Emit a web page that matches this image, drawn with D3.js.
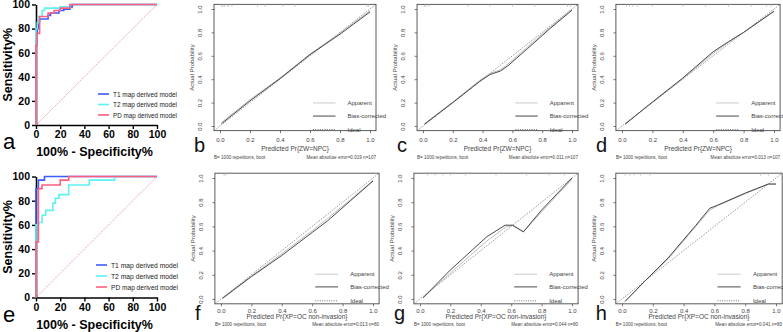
<html>
<head>
<meta charset="utf-8">
<title>ROC and calibration curves</title>
<style>
  body { margin: 0; background: #fff; }
  svg { display: block; }
  text { font-family: "Liberation Sans", Arial, sans-serif; }
</style>
<script src="https://d3js.org/d3.v7.min.js"></script>
</head>
<body>
<svg width="783" height="332"></svg>
<script>
// ---- data ----
var rocTicks = [0, 20, 40, 60, 80, 100];
var rocModels = ["T1 map derived model", "T2 map derived model", "PD map derived model"];
var rocColors = ["#3d5cff", "#5cf2f2", "#ff5f7e"];

// step curves: [100% - specificity, sensitivity]
var rocA_T1 = [[0,0],[0,70],[1,80],[2,86],[3,88],[10,91],[12,93],[19,95],[23,96],[28,98],[30,100],[100,100]];
var rocA_T2 = [[0,0],[0,68],[0,80],[1,85],[2,90],[5,95],[7,97],[20,98],[28,100],[100,100]];
var rocA_PD = [[0,0],[0,66],[1,76],[3,90],[10,93],[15,95],[20,97],[28,100],[100,100]];

var rocE_T1 = [[0,0],[0,60],[0,90],[2,97],[7,100],[100,100]];
var rocE_T2 = [[0,0],[0,46],[0,60],[2,62],[5,68],[8,72],[14,78],[16,82],[19,85],[27,93],[44,97],[65,100],[100,100]];
var rocE_PD = [[0,0],[0,46],[2,90],[5,93],[20,97],[27,100],[100,100]];

var calTicks = [0, 0.2, 0.4, 0.6, 0.8, 1.0];
var calLegend = ["Apparent", "Bias-corrected", "Ideal"];

// [predicted, actual]
var calB_app  = [[0.01,0.03],[0.2,0.225],[0.4,0.41],[0.6,0.615],[0.8,0.795],[1.0,0.985]];
var calB_bias = [[0.01,0.02],[0.2,0.215],[0.4,0.405],[0.6,0.61],[0.8,0.785],[1.0,0.975]];
var calC_app  = [[0.01,0.02],[0.2,0.205],[0.38,0.39],[0.45,0.45],[0.52,0.48],[0.57,0.53],[0.7,0.675],[0.85,0.84],[1.0,1.0]];
var calC_bias = [[0.01,0.015],[0.2,0.2],[0.38,0.38],[0.45,0.44],[0.52,0.47],[0.57,0.515],[0.7,0.66],[0.85,0.83],[1.0,0.99]];
var calD_app  = [[0.02,0.02],[0.2,0.2],[0.4,0.405],[0.6,0.62],[0.7,0.715],[0.8,0.8],[1.0,0.985]];
var calD_bias = [[0.02,0.015],[0.2,0.205],[0.4,0.41],[0.6,0.635],[0.7,0.72],[0.8,0.8],[1.0,0.98]];
var calF_app  = [[0.01,0.01],[0.2,0.19],[0.4,0.375],[0.6,0.565],[0.7,0.665],[0.85,0.82],[1.0,0.98]];
var calF_bias = [[0.01,0.005],[0.2,0.185],[0.4,0.36],[0.6,0.55],[0.7,0.645],[0.85,0.81],[1.0,0.975]];
var calG_app  = [[0.02,0.01],[0.2,0.215],[0.44,0.48],[0.57,0.6],[0.61,0.605],[0.68,0.555],[0.8,0.72],[1.0,0.99]];
var calG_bias = [[0.02,0.01],[0.2,0.24],[0.44,0.515],[0.56,0.61],[0.61,0.61],[0.68,0.555],[0.8,0.735],[1.0,1.0]];
var calH_app  = [[0.02,-0.02],[0.15,0.15],[0.3,0.33],[0.48,0.6],[0.57,0.735],[0.62,0.77],[0.8,0.87],[0.95,0.95],[1.0,0.95]];
var calH_bias = [[0.02,-0.02],[0.15,0.15],[0.3,0.34],[0.48,0.61],[0.57,0.75],[0.62,0.775],[0.8,0.875],[0.95,0.95],[1.0,0.95]];

var rugB = [0.01,0.02,0.03,0.05,0.06,0.08,0.25,0.3,0.42,0.5,0.98,0.99];
var rugC = [0.01,0.02,0.04,0.3,0.45,0.6,0.75,0.97,0.99];
var rugD = [0.03,0.05,0.07,0.1,0.2,0.4,0.55,0.7,0.85,0.95,0.98];
var rugF = [0.02,0.03];
var rugG = [0.05,0.1,0.15,0.2,0.3,0.5,0.7,0.85,0.95];
var rugH = [0.02,0.05,0.08,0.12,0.18,0.9,0.95];

var svg = d3.select("svg");

// ---- ROC panels ----
function rocPanel(o) {
  var x = d3.scaleLinear().domain([0, 100]).range([o.x0, o.x1]);
  var y = d3.scaleLinear().domain([0, 100]).range([o.y0, o.y1]);
  var g = svg.append("g");

  // chance line
  g.append("line")
    .attr("x1", x(0)).attr("y1", y(0)).attr("x2", x(100)).attr("y2", y(100))
    .attr("stroke", "#f2a0a0").attr("stroke-width", 1).attr("stroke-dasharray", "1.5,1");

  var ax = g.append("g").attr("transform", "translate(0," + o.y0 + ")")
    .call(d3.axisBottom(x).tickValues(rocTicks).tickSize(4).tickSizeOuter(0).tickPadding(2));
  var ay = g.append("g").attr("transform", "translate(" + o.x0 + ",0)")
    .call(d3.axisLeft(y).tickValues(rocTicks).tickSize(4).tickSizeOuter(0).tickPadding(2));
  [ax, ay].forEach(function (a) {
    a.select(".domain").attr("stroke-width", 1.6);
    a.selectAll(".tick line").attr("stroke-width", 1.4);
    a.selectAll("text").attr("font-size", 10.5).attr("font-weight", "bold").attr("fill", "#000")
      .style("font-family", "'Liberation Sans', Arial, sans-serif");
  });

  var line = d3.line().x(function (d) { return x(d[0]); }).y(function (d) { return y(d[1]); })
    .curve(d3.curveStepAfter);
  o.series.forEach(function (s, i) {
    g.append("path").attr("d", line(s)).attr("fill", "none")
      .attr("stroke", rocColors[i]).attr("stroke-width", 1.6);
  });

  g.append("text").attr("transform", "translate(8," + ((o.y0 + o.y1) / 2) + ") rotate(-90)")
    .attr("text-anchor", "middle").attr("dy", "0.35em")
    .attr("font-size", 12.5).attr("font-weight", "bold").text("Sensitivity%");
  g.append("text").attr("x", (o.x0 + o.x1) / 2 - 2).attr("y", o.y0 + 31)
    .attr("text-anchor", "middle").attr("font-size", 12.5).attr("font-weight", "bold")
    .text("100% - Specificity%");
  g.append("text").attr("x", 3).attr("y", o.y0 + 24).attr("font-size", 22).text(o.letter);

  rocModels.forEach(function (m, i) {
    var ly = o.legY[i];
    g.append("line").attr("x1", o.legX).attr("x2", o.legX + 11).attr("y1", ly).attr("y2", ly)
      .attr("stroke", rocColors[i]).attr("stroke-width", 1.6);
    g.append("text").attr("x", o.legX + 15).attr("y", ly).attr("dy", "0.35em")
      .attr("font-size", 8).attr("fill", "#222")
      .attr("textLength", o.legW).attr("lengthAdjust", "spacingAndGlyphs").text(m);
  });
}

rocPanel({x0: 36, x1: 157, y0: 125, y1: 4.5, letter: "a",
  series: [rocA_T1, rocA_T2, rocA_PD], legX: 98, legY: [94, 104.5, 115], legW: 64});
rocPanel({x0: 36, x1: 157, y0: 297.5, y1: 176.5, letter: "e",
  series: [rocE_T1, rocE_T2, rocE_PD], legX: 96, legY: [265, 276, 287], legW: 67});

// ---- calibration panels ----
function calPanel(o) {
  var x = d3.scaleLinear().domain([0, 1]).range([o.x0, o.x1]);
  var y = d3.scaleLinear().domain([0, 1]).range([o.y0, o.y1]);
  var g = svg.append("g");
  var fl = x(-0.04), fr = x(1.04), ft = y(1.04), fb = y(-0.04);
  var ink = "#444";

  g.append("rect").attr("x", fl).attr("y", ft).attr("width", fr - fl).attr("height", fb - ft)
    .attr("fill", "none").attr("stroke", "#333").attr("stroke-width", 0.8);

  var ax = g.append("g").attr("transform", "translate(0," + fb + ")")
    .call(d3.axisBottom(x).tickValues(calTicks).tickFormat(d3.format(".1f")).tickSize(2.5).tickSizeOuter(0).tickPadding(o.off[0]));
  var ay = g.append("g").attr("transform", "translate(" + fl + ",0)")
    .call(d3.axisLeft(y).tickValues(calTicks).tickFormat(d3.format(".1f")).tickSize(2.5).tickSizeOuter(0));
  [ax, ay].forEach(function (a) {
    a.select(".domain").remove();
    a.selectAll(".tick line").attr("stroke", ink).attr("stroke-width", 0.7);
    a.selectAll("text").attr("font-size", 6).attr("fill", ink)
      .style("font-family", "'Liberation Sans', Arial, sans-serif");
  });
  ay.selectAll(".tick text").attr("x", null).attr("dy", null)
    .attr("transform", "translate(-12,0) rotate(-90)").attr("text-anchor", "middle");

  // rug along the top
  g.selectAll(".rug").data(o.rug).enter().append("line")
    .attr("x1", function (d) { return x(d); }).attr("x2", function (d) { return x(d); })
    .attr("y1", ft).attr("y2", ft + 2.5).attr("stroke", "#aaa").attr("stroke-width", 0.6);

  // ideal line, clipped to the frame
  g.append("line").attr("x1", x(-0.04)).attr("y1", y(-0.04)).attr("x2", x(1.04)).attr("y2", y(1.04))
    .attr("stroke", "#666").attr("stroke-width", 0.8).attr("stroke-dasharray", "1,1.3");

  var line = d3.line().x(function (d) { return x(d[0]); }).y(function (d) { return y(d[1]); });
  g.append("path").attr("d", line(o.app)).attr("fill", "none")
    .attr("stroke", "#b8b8b8").attr("stroke-width", 0.9);
  g.append("path").attr("d", line(o.bias)).attr("fill", "none")
    .attr("stroke", "#333").attr("stroke-width", 0.9);

  // legend
  var styles = [
    {stroke: "#c4c4c4", dash: null},
    {stroke: "#333", dash: null},
    {stroke: "#666", dash: "1,1.3"}
  ];
  calLegend.forEach(function (t, i) {
    var ly = y(o.legY[i]);
    g.append("line").attr("x1", x(0.62)).attr("x2", x(0.77)).attr("y1", ly).attr("y2", ly)
      .attr("stroke", styles[i].stroke).attr("stroke-width", 0.9)
      .attr("stroke-dasharray", styles[i].dash);
    g.append("text").attr("x", x(0.85)).attr("y", ly).attr("dy", "0.35em")
      .attr("font-size", 6).attr("fill", ink).text(t);
  });

  g.append("text").attr("transform", "translate(" + (fl - 20) + "," + ((ft + fb) / 2) + ") rotate(-90)")
    .attr("text-anchor", "middle").attr("font-size", 6).attr("fill", ink).text("Actual Probability");
  g.append("text").attr("x", x(0.5)).attr("y", fb + o.off[1]).attr("text-anchor", "middle")
    .attr("font-size", 6.5).attr("fill", ink).text(o.xTitle);
  g.append("text").attr("x", fl).attr("y", fb + o.off[2]).attr("font-size", 4.6).attr("fill", ink)
    .text("B= 1000 repetitions, boot");
  g.append("text").attr("x", fr).attr("y", fb + o.off[2]).attr("text-anchor", "end")
    .attr("font-size", 4.6).attr("fill", ink).text(o.mae);
  g.append("text").attr("x", fl - 20).attr("y", fb + o.off[1] + 1).attr("font-size", 20).attr("fill", "#111")
    .text(o.letter);
}

var topTitle = "Predicted Pr{ZW=NPC}";
var botTitle = "Predicted Pr{XP=OC non-invasion}";
var topOff = [5, 20, 28];
var botOff = [2, 15, 22.5];

calPanel({x0: 220, x1: 370, y0: 126, y1: 9, letter: "b", xTitle: topTitle, off: topOff,
  app: calB_app, bias: calB_bias, rug: rugB, legY: [0.197, 0.085, -0.03],
  mae: "Mean absolute error=0.019 n=107"});
calPanel({x0: 423, x1: 572, y0: 126, y1: 9, letter: "c", xTitle: topTitle, off: topOff,
  app: calC_app, bias: calC_bias, rug: rugC, legY: [0.197, 0.085, -0.03],
  mae: "Mean absolute error=0.011 n=107"});
calPanel({x0: 622, x1: 774, y0: 126, y1: 9, letter: "d", xTitle: topTitle, off: topOff,
  app: calD_app, bias: calD_bias, rug: rugD, legY: [0.197, 0.085, -0.03],
  mae: "Mean absolute error=0.013 n=107"});
calPanel({x0: 221, x1: 373, y0: 299, y1: 178, letter: "f", xTitle: botTitle, off: botOff,
  app: calF_app, bias: calF_bias, rug: rugF, legY: [0.205, 0.1, -0.015],
  mae: "Mean absolute error=0.013 n=80"});
calPanel({x0: 420, x1: 572, y0: 299, y1: 178, letter: "g", xTitle: botTitle, off: botOff,
  app: calG_app, bias: calG_bias, rug: rugG, legY: [0.205, 0.1, -0.015],
  mae: "Mean absolute error=0.044 n=80"});
calPanel({x0: 622, x1: 776, y0: 299, y1: 178, letter: "h", xTitle: botTitle, off: botOff,
  app: calH_app, bias: calH_bias, rug: rugH, legY: [0.205, 0.1, -0.015],
  mae: "Mean absolute error=0.041 n=80"});
</script>
</body>
</html>
